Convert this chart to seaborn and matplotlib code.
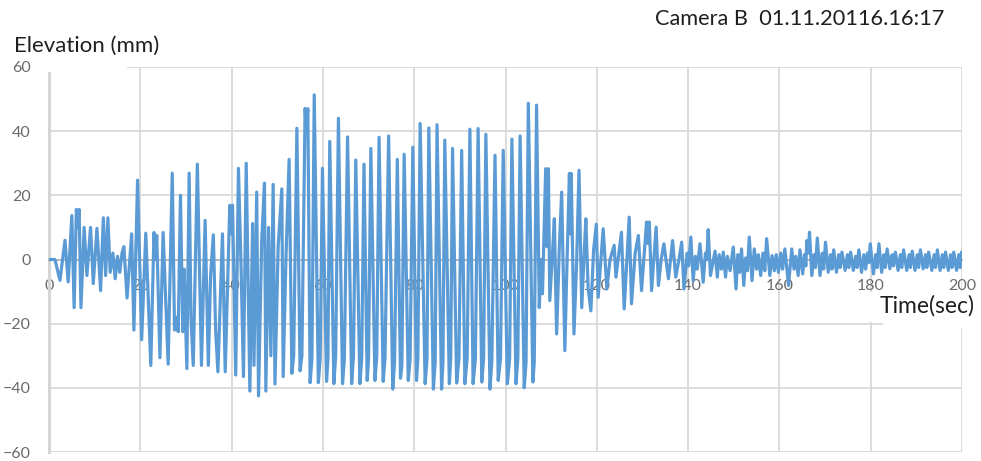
import matplotlib
matplotlib.use("Agg")
import numpy as np
import pandas as pd
import seaborn as sns
import matplotlib.pyplot as plt
from matplotlib.patches import Rectangle

# Wave gauge record, camera B: elevation (mm) against time (s)
# Onset of the wave train
t_onset = [0.0, 1.3, 1.8, 2.4, 3.5, 4.2, 5.0, 5.5, 6.0, 6.3, 6.6, 7.0, 7.7, 8.3,
           9.1, 9.7, 10.5, 11.3, 11.9, 12.4, 12.9, 13.4, 14.0, 14.5, 15.0, 15.5,
           16.0, 16.4, 17.1, 18.1, 18.6, 19.4, 20.3]
e_onset = [0.0, 0.0, -3.0, -6.5, 6.0, -7.0, 13.7, -15.0, 15.6, 10.0, 15.6, -15.0,
           10.0, -5.0, 10.0, -7.5, 9.7, -9.7, 13.0, -5.0, 13.0, -4.0, 2.0, -6.0,
           1.0, -4.0, 2.0, 4.0, -12.0, 8.0, -22.0, 24.7, -25.0]

# Build-up
t_build = [21.2, 22.3, 23.0, 23.3, 23.6, 24.3, 25.0, 25.5, 26.1, 27.0, 27.5, 28.0,
           28.3, 28.8, 29.3, 29.6, 30.2, 30.7, 31.1, 31.6, 32.5, 33.4, 34.2, 34.9,
           35.4, 36.0, 36.5, 37.0, 38.0, 38.6, 39.6, 39.9, 40.2, 40.9]
e_build = [8.2, -33.0, 8.4, 0.0, 7.5, -30.6, 8.4, -10.0, -32.6, 26.9, -22.0, -18.0,
           -22.5, 20.0, -22.5, -3.0, -34.0, 26.9, -18.0, -33.0, 29.7, -33.0, 12.2,
           -33.0, -5.0, 7.7, -22.0, -35.0, 8.0, -35.0, 16.9, 8.0, 16.9, -36.0]

# Growth towards the steady state
t_growth = [41.5, 42.1, 42.6, 43.2, 44.0, 44.6, 44.9, 45.5, 45.9, 46.6, 47.2, 47.5,
            48.1, 48.6, 49.1, 49.5, 50.2, 51.0, 51.3, 51.9, 52.6, 53.2, 53.6, 54.3,
            55.0, 55.4]
e_growth = [28.4, -4.0, -36.5, 30.0, -41.0, 11.2, -33.0, 21.0, -42.5, 6.0, 23.8, -41.0,
            10.0, -30.0, 23.4, -38.8, 4.0, 22.0, -36.5, 0.0, 31.2, -35.5, -30.0, 40.9,
            -34.7, -30.0]

# Steady wave train
t_steady = [56.1, 56.4, 56.7, 57.2, 57.6, 58.1, 59.0, 59.4, 59.9, 60.8, 61.1, 61.5,
            62.4, 62.8, 63.4, 64.3, 64.7, 65.4, 66.3, 66.7, 67.2, 68.1, 68.5, 69.0,
            69.7, 70.0, 70.5, 71.4, 71.8, 72.3, 73.2, 73.6, 74.4, 75.3, 75.7, 76.3,
            77.0, 77.3, 77.8, 78.7, 79.1, 79.7, 80.5, 80.8, 81.3, 82.4, 82.8, 83.2,
            84.2, 84.6, 85.0, 86.0, 86.3, 86.7, 87.7, 88.0, 88.4, 89.3, 89.8, 90.4,
            91.1, 91.6, 92.2, 92.9, 93.4, 94.0, 94.8, 95.2, 95.7, 96.6, 97.0, 97.7,
            98.4, 98.9, 99.5, 100.4, 100.9, 101.4, 102.3, 102.7, 103.2, 104.1, 104.5,
            105.0, 106.0, 106.3, 106.8]
e_steady = [47.1, 40.0, 47.0, -38.4, -31.0, 51.3, -38.4, -31.0, 28.4, -38.0, -31.0, 36.8,
            -38.7, -30.0, 44.0, -38.7, -31.0, 38.2, -38.7, -30.0, 31.0, -38.7, -31.0, 29.7,
            -37.7, -31.0, 34.6, -37.7, -30.0, 38.1, -38.0, -31.0, 38.5, -40.4, -32.0, 31.2,
            -37.0, -33.0, 32.8, -37.7, -31.0, 35.0, -37.7, -31.0, 42.4, -38.7, -31.0, 41.0,
            -40.4, -32.0, 42.0, -40.4, -32.0, 37.2, -38.7, -31.0, 34.6, -38.5, -31.0, 34.0,
            -38.7, -31.0, 40.6, -38.7, -31.0, 40.8, -38.2, -31.0, 39.0, -40.4, -32.0, 32.5,
            -37.7, -31.0, 34.0, -38.7, -31.0, 37.5, -38.7, -31.0, 38.5, -40.0, -32.0,
            48.7, -38.2, -32.0, 48.1]

# Decay after the wavemaker stops
t_decay = [107.4, 107.8, 108.1, 108.8, 109.1, 109.4, 109.7, 110.3, 110.7, 111.2, 111.8,
           112.3, 113.0, 113.4, 114.0, 114.2, 114.4, 115.0, 115.6, 116.1, 116.7, 117.3,
           117.6, 118.1, 118.7, 119.3, 119.9, 120.3, 121.4, 122.2, 122.9, 123.8, 124.2,
           125.4, 126.0, 127.1, 127.6, 128.4, 129.1, 129.8, 130.9, 131.2, 131.5, 132.0,
           133.0, 133.5, 134.1, 134.7, 135.7, 136.6, 137.3, 138.0, 138.6, 139.1, 139.8,
           140.1, 140.6, 141.1, 141.6, 142.0, 142.6, 143.3, 143.8, 144.1, 144.4, 144.9]
e_decay = [-15.0, 0.0, -10.7, 28.3, 4.0, 28.3, -12.8, 2.0, 12.7, -23.2, 4.0,
           21.0, -28.4, -5.0, 26.8, 8.0, 26.8, -23.2, 0.0, 27.8, -15.0, 4.0,
           12.7, -9.0, -16.0, 3.0, 11.0, -11.8, 9.6, -9.2, 0.0, 4.4, -5.5,
           8.5, -15.4, 13.2, -13.8, 2.0, 7.5, -9.7, 11.7, 5.0, 11.7, -9.7,
           10.1, -8.1, 0.0, 4.9, -6.0, 5.9, -5.5, 0.0, 5.4, -9.2, 2.0,
           -2.0, 7.0, -6.6, 1.0, -3.0, 4.9, -7.1, 2.0, 0.0, 9.3, -5.0]

# Residual sloshing
t_tail = [145.9, 146.4, 146.8, 147.3, 147.7, 148.2, 148.6, 149.2, 149.9, 150.5,
          150.9, 151.3, 151.7, 152.2, 152.6, 153.0, 153.4, 154.0, 154.5, 155.0,
          155.4, 155.9, 156.4, 156.8, 157.2, 157.9, 158.4, 158.9, 159.3, 159.8,
          160.3, 160.7, 161.2, 162.0, 162.7, 163.2, 163.6, 164.1, 164.5, 165.1,
          165.5, 165.8, 166.0, 166.3, 166.6, 167.1, 167.6, 167.9, 168.3, 168.9,
          169.4, 169.7, 170.1, 170.7, 171.2, 171.5, 171.9, 172.5, 173.0, 173.3,
          173.7, 174.4, 174.9, 175.2, 175.6, 176.2, 176.7, 177.0, 177.4, 178.0,
          178.5, 178.9, 179.3, 179.6, 179.9, 180.6, 181.1, 181.4, 181.8, 182.4,
          182.9, 183.2, 183.6, 184.2, 184.7, 185.0, 185.4, 186.0, 186.5, 186.8,
          187.2, 187.9, 188.4, 188.7, 189.1, 189.7, 190.2, 190.5, 190.9, 191.5,
          192.0, 192.3, 192.7, 193.4, 193.9, 194.2, 194.6, 195.2, 195.7, 196.0,
          196.4, 197.0, 197.5, 197.8, 198.2, 198.8, 199.3, 199.6, 199.9]
e_tail = [2.6, -5.5, 1.5, -3.0, 2.3, -5.5, 1.0, -3.5, 3.9, -9.2,
          1.5, -4.0, 3.3, -8.1, 0.5, -3.5, 7.0, -6.6, 3.3, -3.0,
          1.5, -5.0, 2.0, -3.5, 6.5, -5.0, 1.2, -3.5, 1.5, -4.0,
          2.0, -3.0, 3.3, -8.1, 3.3, -3.0, 1.0, -5.0, 3.0, -4.5,
          1.5, -2.0, 5.9, 2.0, 8.5, -5.0, 1.5, -2.5, 6.7, -5.0,
          2.0, -3.0, 5.4, -4.0, 1.5, -3.0, 3.0, -4.0, 1.5, -2.5,
          2.3, -3.4, 1.5, -2.5, 2.3, -3.4, 1.0, -2.5, 3.0, -4.0,
          1.5, -3.0, 2.0, -1.0, 4.9, -4.5, 1.5, -2.5, 4.9, -4.0,
          1.5, -2.5, 3.3, -2.9, 1.5, -2.0, 2.3, -3.4, 1.5, -2.5,
          3.0, -3.4, 1.5, -2.5, 2.6, -3.4, 1.5, -2.5, 3.0, -2.9,
          1.5, -2.5, 2.3, -3.4, 1.5, -2.5, 3.0, -3.4, 1.5, -2.5,
          2.3, -3.4, 1.5, -2.5, 2.3, -3.4, 1.5, -2.5, 2.3]

x_ticks = [0, 20, 40, 60, 80, 100, 120, 140, 160, 180, 200]
y_ticks = [-60, -40, -20, 0, 20, 40, 60]

record = pd.DataFrame({
    "time": t_onset + t_build + t_growth + t_steady + t_decay + t_tail,
    "elevation": e_onset + e_build + e_growth + e_steady + e_decay + e_tail,
})

sns.set_style("white")
plt.rcParams["font.family"] = ["Lato", "DejaVu Sans"]

W, H = 981, 461
fig = plt.figure(figsize=(W / 100, H / 100), dpi=100)
x0, x1, ytop, ybot = 49, 962, 67, 452
ax = fig.add_axes([x0 / W, 1 - ybot / H, (x1 - x0) / W, (ybot - ytop) / H])

sns.lineplot(data=record, x="time", y="elevation", ax=ax, color="#5B9BD5",
             linewidth=2.3, estimator=None, sort=False, zorder=3)

ax.set_xlim(0, 200)
ax.set_ylim(-60, 60)
ax.set_xticks(x_ticks)
ax.set_yticks(y_ticks)
ax.set_xlabel("")
ax.set_ylabel("")

grid_col = "#D9D9D9"
ax.grid(True, color=grid_col, linewidth=1.3)
xgl = ax.get_xgridlines()
xgl[-1].set_visible(False)
for i in (2, 9):
    xgl[i].set_linewidth(2.6)
    xgl[i].set_color("#D2D2D2")

for s in ("top", "right"):
    ax.spines[s].set_visible(False)
ax.spines["bottom"].set_position(("data", 0))
ax.spines["bottom"].set_color("#B5B5B5")
ax.spines["bottom"].set_linewidth(1.3)
ax.spines["left"].set_color("#D5D5D5")
ax.spines["left"].set_linewidth(2.2)

tick_col = "#6A6A6A"
ax.tick_params(axis="x", length=0, pad=14, labelsize=11.5, labelcolor=tick_col)
ax.tick_params(axis="y", length=0, pad=13, labelsize=11.5, labelcolor=tick_col)

# Header labels
txt_col = "#1F1F1F"
fig.text(14 / W, 1 - 52 / H, "Elevation (mm)", fontsize=16, color=txt_col,
         va="baseline", ha="left")
fig.text(655 / W, 1 - 25 / H, "Camera B  01.11.20116.16:17", fontsize=15.7,
         color=txt_col, va="baseline", ha="left")

# White masks behind the axis captions
for (px, py, pw, ph) in [(40, 60, 87, 12), (868, 292, 113, 30), (883, 320, 98, 8)]:
    fig.add_artist(Rectangle((px / W, 1 - (py + ph) / H), pw / W, ph / H,
                             transform=fig.transFigure, facecolor="white",
                             edgecolor="none", zorder=5))
fig.text(880 / W, 1 - 313 / H, "Time(sec)", fontsize=16.5, color=txt_col,
         va="baseline", ha="left", zorder=6)

fig.savefig("out.png", dpi=100, facecolor="white")
